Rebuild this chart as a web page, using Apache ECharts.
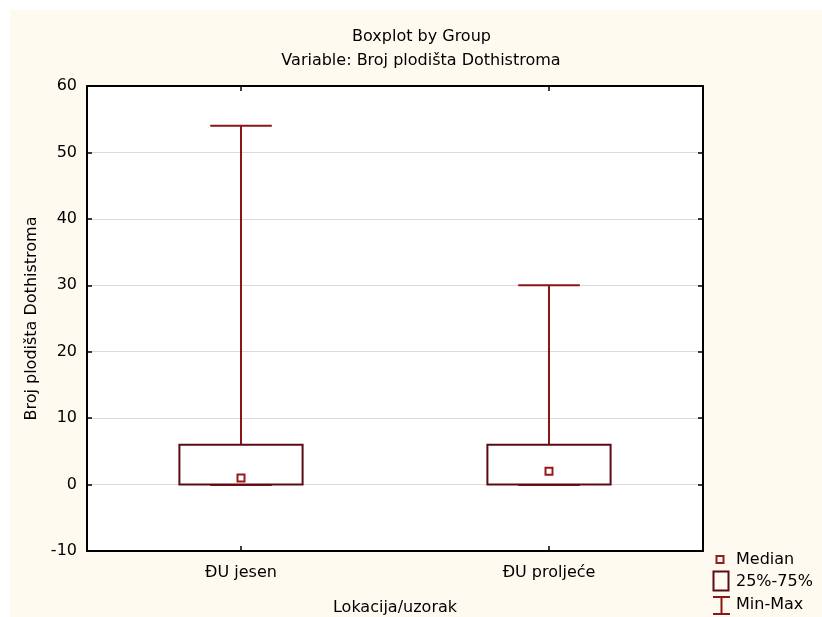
<!DOCTYPE html>
<html>
<head>
<meta charset="utf-8">
<script src="https://cdn.jsdelivr.net/npm/echarts@6/dist/echarts.min.js"></script>
<style>
html,body{margin:0;padding:0;background:#ffffff;}
#chart{position:absolute;left:10px;top:10px;width:812px;height:607px;}
</style>
</head>
<body>
<div id="chart"></div>
<script>
// ---- data ----
const categories = ['ĐU jesen', 'ĐU proljeće'];
const minVals = [0, 0];
const q1Vals = [0, 0];
const medianVals = [1, 2];
const q3Vals = [6, 6];
const maxVals = [54, 30];
const yTicks = { min: -10, max: 60, interval: 10 };

const FONT = 'DejaVu Sans';
const BOX_COLOR = '#5a0c16';
const WHISKER_COLOR = '#8b1616';
const MEDIAN_COLOR = '#951a1a';

const boxData = categories.map((c, i) => [i, minVals[i], q1Vals[i], medianVals[i], q3Vals[i], maxVals[i]]);
const medianData = categories.map((c, i) => [i, medianVals[i]]);

const chart = echarts.init(document.getElementById('chart'));

const textStyleBase = { fontFamily: FONT, fontSize: 16, color: '#000' };

const option = {
  backgroundColor: '#fffaf0',
  animation: false,
  grid: {
    left: 77, right: 119, top: 76, bottom: 66,
    containLabel: false, outerBoundsMode: 'none',
    show: true, backgroundColor: '#ffffff', borderWidth: 0
  },
  xAxis: [
    {
      type: 'category', data: categories, position: 'bottom',
      boundaryGap: true,
      axisLine: { show: true, onZero: false, lineStyle: { color: '#000', width: 2 } },
      axisTick: { show: true, inside: true, alignWithLabel: true, length: 5, lineStyle: { color: '#000', width: 1.5 } },
      axisLabel: Object.assign({ margin: 14 }, textStyleBase),
      name: 'Lokacija/uzorak', nameLocation: 'middle', nameGap: 49,
      nameTextStyle: textStyleBase,
      splitLine: { show: false }
    },
    {
      type: 'category', data: categories, position: 'top',
      boundaryGap: true,
      axisLine: { show: true, onZero: false, lineStyle: { color: '#000', width: 2 } },
      axisTick: { show: true, inside: true, alignWithLabel: true, length: 5, lineStyle: { color: '#000', width: 1.5 } },
      axisLabel: { show: false },
      splitLine: { show: false }
    }
  ],
  yAxis: [
    {
      type: 'value', position: 'left',
      min: yTicks.min, max: yTicks.max, interval: yTicks.interval,
      axisLine: { show: true, onZero: false, lineStyle: { color: '#000', width: 2 } },
      axisTick: { show: true, inside: true, length: 5, lineStyle: { color: '#000', width: 1.5 } },
      axisLabel: Object.assign({ margin: 10 }, textStyleBase),
      splitLine: { show: true, lineStyle: { color: '#dadada', width: 1 } },
      name: 'Broj plodišta Dothistroma', nameLocation: 'middle', nameGap: 46, nameRotate: 90,
      nameTextStyle: textStyleBase
    },
    {
      type: 'value', position: 'right',
      min: yTicks.min, max: yTicks.max, interval: yTicks.interval,
      axisLine: { show: true, onZero: false, lineStyle: { color: '#000', width: 2 } },
      axisTick: { show: true, inside: true, length: 5, lineStyle: { color: '#000', width: 1.5 } },
      axisLabel: { show: false },
      splitLine: { show: false }
    }
  ],
  graphic: [
    { type: 'text', x: 411.5, y: 26.5, style: { text: 'Boxplot by Group', align: 'center', verticalAlign: 'middle', font: '16px "DejaVu Sans"', fill: '#000' } },
    { type: 'text', x: 411, y: 50.5, style: { text: 'Variable: Broj plodišta Dothistroma', align: 'center', verticalAlign: 'middle', font: '16px "DejaVu Sans"', fill: '#000' } },
    // legend
    { type: 'rect', shape: { x: 706.5, y: 546, width: 7, height: 7 }, style: { fill: '#fff', stroke: MEDIAN_COLOR, lineWidth: 2 } },
    { type: 'text', x: 726, y: 549.5, style: { text: 'Median', align: 'left', verticalAlign: 'middle', font: '16px "DejaVu Sans"', fill: '#000' } },
    { type: 'rect', shape: { x: 703.5, y: 561.5, width: 15, height: 19 }, style: { fill: 'none', stroke: BOX_COLOR, lineWidth: 2 } },
    { type: 'text', x: 726, y: 571.5, style: { text: '25%-75%', align: 'left', verticalAlign: 'middle', font: '16px "DejaVu Sans"', fill: '#000' } },
    { type: 'line', shape: { x1: 703, y1: 587, x2: 720, y2: 587 }, style: { stroke: WHISKER_COLOR, lineWidth: 2 } },
    { type: 'line', shape: { x1: 711.5, y1: 587, x2: 711.5, y2: 604 }, style: { stroke: WHISKER_COLOR, lineWidth: 2 } },
    { type: 'line', shape: { x1: 703, y1: 604, x2: 720, y2: 604 }, style: { stroke: WHISKER_COLOR, lineWidth: 2 } },
    { type: 'text', x: 726, y: 594.5, style: { text: 'Min-Max', align: 'left', verticalAlign: 'middle', font: '16px "DejaVu Sans"', fill: '#000' } }
  ],
  series: [
    {
      name: 'Min-Max', type: 'custom', xAxisIndex: 0, yAxisIndex: 0, z: 2,
      data: boxData,
      renderItem: function (params, api) {
        const x = api.value(0);
        const pMin = api.coord([x, api.value(1)]);
        const pQ1 = api.coord([x, api.value(2)]);
        const pQ3 = api.coord([x, api.value(4)]);
        const pMax = api.coord([x, api.value(5)]);
        const band = api.size([1, 0])[0];
        const capW = band * 0.2;
        const st = { stroke: WHISKER_COLOR, lineWidth: 2 };
        return {
          type: 'group',
          children: [
            { type: 'line', shape: { x1: pQ3[0], y1: pQ3[1], x2: pMax[0], y2: pMax[1] }, style: st },
            { type: 'line', shape: { x1: pQ1[0], y1: pQ1[1], x2: pMin[0], y2: pMin[1] }, style: st },
            { type: 'line', shape: { x1: pMax[0] - capW / 2, y1: pMax[1], x2: pMax[0] + capW / 2, y2: pMax[1] }, style: st },
            { type: 'line', shape: { x1: pMin[0] - capW / 2, y1: pMin[1] + 0.5, x2: pMin[0] + capW / 2, y2: pMin[1] + 0.5 }, style: st }
          ]
        };
      }
    },
    {
      name: '25%-75%', type: 'custom', xAxisIndex: 0, yAxisIndex: 0, z: 3,
      data: boxData,
      renderItem: function (params, api) {
        const x = api.value(0);
        const pQ1 = api.coord([x, api.value(2)]);
        const pQ3 = api.coord([x, api.value(4)]);
        const band = api.size([1, 0])[0];
        const w = band * 0.4;
        return {
          type: 'rect',
          shape: { x: pQ1[0] - w / 2, y: pQ3[1], width: w, height: pQ1[1] - pQ3[1] },
          style: { fill: '#ffffff', stroke: BOX_COLOR, lineWidth: 2 }
        };
      }
    },
    {
      name: 'Median', type: 'scatter', xAxisIndex: 0, yAxisIndex: 0, z: 4,
      data: medianData,
      symbol: 'rect', symbolSize: 7,
      itemStyle: { color: '#ffffff', borderColor: MEDIAN_COLOR, borderWidth: 2, opacity: 1 }
    }
  ]
};
chart.setOption(option);
</script>
</body>
</html>
